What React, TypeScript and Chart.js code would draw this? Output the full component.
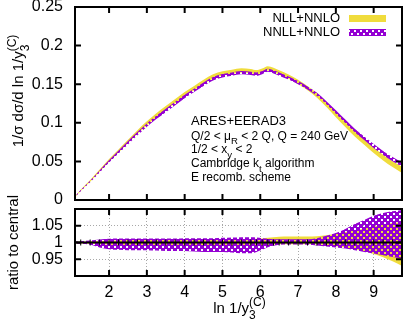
import React, { useEffect, useRef } from 'react';
import { Chart, registerables } from 'chart.js';
Chart.register(...registerables);

const FONT = '"Liberation Sans", Arial, Helvetica, sans-serif';
const YELLOW = '#f0dc3c';
const PURPLE = '#9400d3';

// x grid (ln 1/y3)
const X = [1.0986, 1.25, 1.5, 1.75, 2, 2.25, 2.5, 2.75, 3, 3.25, 3.5, 3.75, 4, 4.25, 4.5, 4.75, 5, 5.25, 5.5, 5.75, 5.9, 6.05, 6.2, 6.35, 6.5, 6.75, 7, 7.25, 7.5, 7.75, 8, 8.25, 8.5, 8.75, 9, 9.25, 9.5, 9.75];

// top panel: NNLL+NNLO band
const nnllLo = [0.0034, 0.0112, 0.023, 0.0357, 0.0485, 0.0602, 0.072, 0.084, 0.095, 0.1048, 0.1138, 0.1228, 0.1318, 0.1398, 0.1478, 0.1548, 0.1588, 0.1608, 0.1628, 0.1618, 0.1608, 0.163, 0.166, 0.164, 0.161, 0.156, 0.150, 0.143, 0.135, 0.124, 0.1118, 0.0998, 0.0877, 0.0776, 0.0675, 0.0584, 0.0503, 0.0432];
const nnllHi = [0.0046, 0.0128, 0.025, 0.0383, 0.0515, 0.0638, 0.076, 0.088, 0.099, 0.1092, 0.1182, 0.1272, 0.1362, 0.1442, 0.1522, 0.1592, 0.1632, 0.1652, 0.1672, 0.1662, 0.1652, 0.167, 0.170, 0.168, 0.165, 0.160, 0.154, 0.147, 0.139, 0.128, 0.1162, 0.1042, 0.0923, 0.0824, 0.0725, 0.0636, 0.0557, 0.0488];
// top panel: NLL+NNLO band
const nllLo = [0.0036, 0.0116, 0.0235, 0.0365, 0.0494, 0.0615, 0.0736, 0.0855, 0.0966, 0.1068, 0.116, 0.1252, 0.1342, 0.1422, 0.1502, 0.1572, 0.1612, 0.1632, 0.1652, 0.1642, 0.1627, 0.1647, 0.1677, 0.1657, 0.1624, 0.157, 0.1502, 0.1422, 0.1325, 0.1205, 0.1073, 0.0947, 0.0821, 0.0715, 0.0609, 0.0513, 0.0427, 0.035];
const nllHi = [0.005, 0.0134, 0.0259, 0.0395, 0.053, 0.0655, 0.078, 0.0905, 0.102, 0.1124, 0.1216, 0.1308, 0.1398, 0.1478, 0.1558, 0.1628, 0.1668, 0.1688, 0.1708, 0.1698, 0.1683, 0.1703, 0.1733, 0.1713, 0.168, 0.1626, 0.1558, 0.1478, 0.1385, 0.1265, 0.1137, 0.1013, 0.0889, 0.0785, 0.0681, 0.0587, 0.0503, 0.043];

// ratio panel
const REF = 1;
const rNnllLo = [0.997, 0.996, 0.993, 0.985, 0.980, 0.978, 0.977, 0.977, 0.977, 0.976, 0.975, 0.975, 0.975, 0.973, 0.972, 0.972, 0.972, 0.970, 0.968, 0.968, 0.972, 0.978, 0.986, 0.990, 0.993, 0.994, 0.994, 0.993, 0.991, 0.988, 0.985, 0.982, 0.977, 0.972, 0.967, 0.962, 0.957, 0.953];
const rNnllHi = [1.003, 1.004, 1.006, 1.009, 1.011, 1.012, 1.012, 1.012, 1.012, 1.012, 1.012, 1.012, 1.013, 1.013, 1.013, 1.013, 1.014, 1.015, 1.016, 1.016, 1.015, 1.013, 1.011, 1.010, 1.010, 1.010, 1.010, 1.010, 1.013, 1.020, 1.028, 1.040, 1.055, 1.067, 1.080, 1.088, 1.093, 1.097];
const rNllLo = [0.998, 0.997, 0.996, 0.995, 0.993, 0.992, 0.991, 0.991, 0.990, 0.990, 0.990, 0.990, 0.990, 0.990, 0.990, 0.990, 0.990, 0.990, 0.990, 0.990, 0.991, 0.992, 0.993, 0.994, 0.995, 0.995, 0.995, 0.995, 0.994, 0.992, 0.989, 0.985, 0.980, 0.974, 0.966, 0.956, 0.944, 0.930];
const rNllHi = [1.002, 1.003, 1.004, 1.005, 1.006, 1.007, 1.008, 1.008, 1.009, 1.009, 1.010, 1.010, 1.010, 1.010, 1.010, 1.010, 1.010, 1.010, 1.010, 1.010, 1.011, 1.012, 1.014, 1.016, 1.017, 1.018, 1.018, 1.018, 1.019, 1.022, 1.026, 1.031, 1.036, 1.042, 1.048, 1.053, 1.058, 1.062];

const X_MIN = 1.0986;
const X_MAX = 9.75;
const xTicks = [2, 3, 4, 5, 6, 7, 8, 9];
const yTicksTop = [0, 0.05, 0.1, 0.15, 0.2, 0.25];
const yTicksRatio = [0.95, 1, 1.05];
const seriesNames = ['NLL+NNLO', 'NNLL+NNLO'];

type Seg = { t: string; k?: 'sub' | 'sup' };
const yTitleTop: Seg[] = [{ t: '1/σ dσ/d ln 1/y' }, { t: '3', k: 'sub' }, { t: '(C)', k: 'sup' }];
const yTitleRatio: Seg[] = [{ t: 'ratio to central' }];
const xTitle: Seg[] = [{ t: 'ln 1/y' }, { t: '3', k: 'sub' }, { t: '(C)', k: 'sup' }];
const infoLines: Seg[][] = [
  [{ t: 'ARES+EERAD3' }],
  [{ t: 'Q/2 < μ' }, { t: 'R', k: 'sub' }, { t: ' < 2 Q, Q = 240 GeV' }],
  [{ t: '1/2 < x' }, { t: 'y', k: 'sub' }, { t: ' < 2' }],
  [{ t: 'Cambridge k' }, { t: 't', k: 'sub' }, { t: ' algorithm' }],
  [{ t: 'E recomb. scheme' }],
];

const W = 407;
const H = 329;
const LEFT = 75;
const RIGHT_PAD = 5;
const TICK = 6;

function drawRich(ctx: CanvasRenderingContext2D, segs: Seg[], x: number, y: number, size: number, align: 'left' | 'center', rot = 0) {
  ctx.save();
  ctx.translate(x, y);
  ctx.rotate(rot);
  const small = size * 0.8;
  const items: { t: string; x: number; dy: number; f: string }[] = [];
  let cx = 0;
  let i = 0;
  while (i < segs.length) {
    const s = segs[i];
    if (!s.k) {
      ctx.font = `${size}px ${FONT}`;
      items.push({ t: s.t, x: cx, dy: 0, f: ctx.font });
      cx += ctx.measureText(s.t).width;
      i++;
    } else {
      const start = cx;
      let w = 0;
      while (i < segs.length && segs[i].k) {
        ctx.font = `${small}px ${FONT}`;
        const dy = segs[i].k === 'sub' ? size * 0.38 : -size * 0.45;
        items.push({ t: segs[i].t, x: start, dy, f: ctx.font });
        w = Math.max(w, ctx.measureText(segs[i].t).width);
        i++;
      }
      cx += w;
    }
  }
  const off = align === 'center' ? -cx / 2 : 0;
  ctx.fillStyle = '#000';
  ctx.textAlign = 'left';
  ctx.textBaseline = 'alphabetic';
  for (const it of items) {
    ctx.font = it.f;
    ctx.fillText(it.t, off + it.x, it.dy);
  }
  ctx.restore();
}

function makePattern(ctx: CanvasRenderingContext2D) {
  const c = document.createElement('canvas');
  c.width = 6;
  c.height = 6;
  const g = c.getContext('2d')!;
  g.fillStyle = PURPLE;
  g.fillRect(0, 0, 6, 6);
  g.clearRect(0, 0, 2, 2);
  g.clearRect(3, 3, 2, 2);
  return ctx.createPattern(c, 'repeat')!;
}

function framePlugin(yT: number[]) {
  return {
    id: 'frame',
    afterDatasetsDraw(chart: any) {
      const { ctx, chartArea: a, scales } = chart;
      ctx.save();
      ctx.strokeStyle = '#000';
      ctx.lineWidth = 2;
      ctx.beginPath();
      for (const v of xTicks) {
        const p = scales.x.getPixelForValue(v);
        ctx.moveTo(p, a.bottom);
        ctx.lineTo(p, a.bottom - TICK);
        ctx.moveTo(p, a.top);
        ctx.lineTo(p, a.top + TICK);
      }
      for (const v of yT) {
        const p = scales.y.getPixelForValue(v);
        ctx.moveTo(a.left, p);
        ctx.lineTo(a.left + TICK, p);
        ctx.moveTo(a.right, p);
        ctx.lineTo(a.right - TICK, p);
      }
      ctx.stroke();
      ctx.strokeRect(a.left, a.top, a.right - a.left, a.bottom - a.top);
      ctx.restore();
    },
  };
}

const pts = (ys: number[]) => X.map((x, i) => ({ x, y: ys[i] }));
const band = (ys: number[], fill: any, bg: any) => ({
  data: pts(ys),
  fill,
  backgroundColor: bg,
  borderColor: 'rgba(0,0,0,0)',
  borderWidth: 0,
  pointRadius: 0,
  cubicInterpolationMode: 'monotone',
});

const yScale = (min: number, max: number, ticks: number[], grid: boolean) => ({
  type: 'linear',
  min,
  max,
  grid: { display: grid, drawTicks: false, color: '#a8a8a8', lineWidth: 1 },
  border: { display: false, dash: [1, 2] },
  ticks: { font: { size: 16, family: FONT }, color: '#000', padding: 12, callback: (v: any) => String(v) },
  afterBuildTicks: (s: any) => {
    s.ticks = ticks.map((v) => ({ value: v }));
  },
  afterFit: (s: any) => {
    s.width = LEFT;
    s.paddingTop = 0;
    s.paddingBottom = 0;
  },
});

export default function App() {
  const topRef = useRef<HTMLCanvasElement>(null);
  const botRef = useRef<HTMLCanvasElement>(null);

  useEffect(() => {
    const c1 = topRef.current!;
    const c2 = botRef.current!;
    const pat1 = makePattern(c1.getContext('2d')!);
    const pat2 = makePattern(c2.getContext('2d')!);

    const topChart = new Chart(c1, {
      type: 'line',
      data: {
        datasets: [
          band(nnllHi, '+1', pat1),
          band(nnllLo, false, pat1),
          band(nllHi, '+1', YELLOW),
          band(nllLo, false, YELLOW),
        ] as any,
      },
      options: {
        responsive: false,
        animation: false,
        devicePixelRatio: 1,
        events: [],
        layout: { padding: { left: 0, right: RIGHT_PAD, top: 7, bottom: 129 } },
        plugins: { legend: { display: false }, tooltip: { enabled: false } },
        scales: {
          x: { type: 'linear', min: X_MIN, max: X_MAX, display: false },
          y: yScale(0, 0.25, yTicksTop, false),
        } as any,
      },
      plugins: [
        framePlugin(yTicksTop),
        {
          id: 'texts',
          afterDraw(chart: any) {
            const ctx = chart.ctx;
            ctx.save();
            // legend
            ctx.font = `13px ${FONT}`;
            ctx.fillStyle = '#000';
            ctx.textAlign = 'right';
            ctx.textBaseline = 'middle';
            ctx.fillText(seriesNames[0], 340, 18);
            ctx.fillText(seriesNames[1], 340, 32);
            ctx.fillStyle = YELLOW;
            ctx.fillRect(349, 15, 37, 7);
            ctx.fillStyle = pat1;
            ctx.fillRect(349, 29, 37, 7);
            ctx.restore();
            // info
            drawRich(ctx, infoLines[0], 191, 124.5, 13, 'left');
            drawRich(ctx, infoLines[1], 191, 139.5, 12, 'left');
            drawRich(ctx, infoLines[2], 191, 153, 12, 'left');
            drawRich(ctx, infoLines[3], 191, 167, 12, 'left');
            drawRich(ctx, infoLines[4], 191, 181, 12, 'left');
            // y title
            drawRich(ctx, yTitleTop, 23, 91, 15, 'center', -Math.PI / 2);
          },
        },
      ],
    } as any);

    const botChart = new Chart(c2, {
      type: 'line',
      data: {
        datasets: [
          {
            data: pts(X.map(() => REF)),
            borderColor: '#000',
            borderWidth: 2,
            pointStyle: 'line',
            rotation: 90,
            pointRadius: 3,
            pointBorderWidth: 1,
            pointBorderColor: '#000',
            fill: false,
          },
          band(rNnllHi, '+1', pat2),
          band(rNnllLo, false, pat2),
          band(rNllHi, '+1', YELLOW),
          band(rNllLo, false, YELLOW),
        ] as any,
      },
      options: {
        responsive: false,
        animation: false,
        devicePixelRatio: 1,
        events: [],
        layout: { padding: { left: 0, right: RIGHT_PAD, top: 209, bottom: 0 } },
        plugins: { legend: { display: false }, tooltip: { enabled: false } },
        scales: {
          x: {
            type: 'linear',
            min: X_MIN,
            max: X_MAX,
            grid: { display: true, drawTicks: false, color: '#a8a8a8', lineWidth: 1 },
            border: { display: false, dash: [1, 2] },
            ticks: { font: { size: 16, family: FONT }, color: '#000', padding: 7, maxRotation: 0, autoSkip: false, callback: (v: any) => String(v) },
            afterBuildTicks: (s: any) => {
              s.ticks = xTicks.map((v) => ({ value: v }));
            },
            afterFit: (s: any) => {
              s.height = 53;
              s.paddingLeft = 0;
              s.paddingRight = 0;
            },
          },
          y: yScale(0.9, 1.1, yTicksRatio, true),
        } as any,
      },
      plugins: [
        framePlugin(yTicksRatio),
        {
          id: 'texts2',
          afterDraw(chart: any) {
            const ctx = chart.ctx;
            const a = chart.chartArea;
            drawRich(ctx, yTitleRatio, 18, 242.5, 15, 'center', -Math.PI / 2);
            drawRich(ctx, xTitle, (a.left + a.right) / 2 + 1, 313, 15, 'center');
          },
        },
      ],
    } as any);

    return () => {
      topChart.destroy();
      botChart.destroy();
    };
  }, []);

  return (
    <div style={{ position: 'absolute', left: 0, top: 0, width: W, height: H, background: '#fff' }}>
      <canvas ref={topRef} width={W} height={H} style={{ position: 'absolute', left: 0, top: 0 }} />
      <canvas ref={botRef} width={W} height={H} style={{ position: 'absolute', left: 0, top: 0 }} />
    </div>
  );
}
